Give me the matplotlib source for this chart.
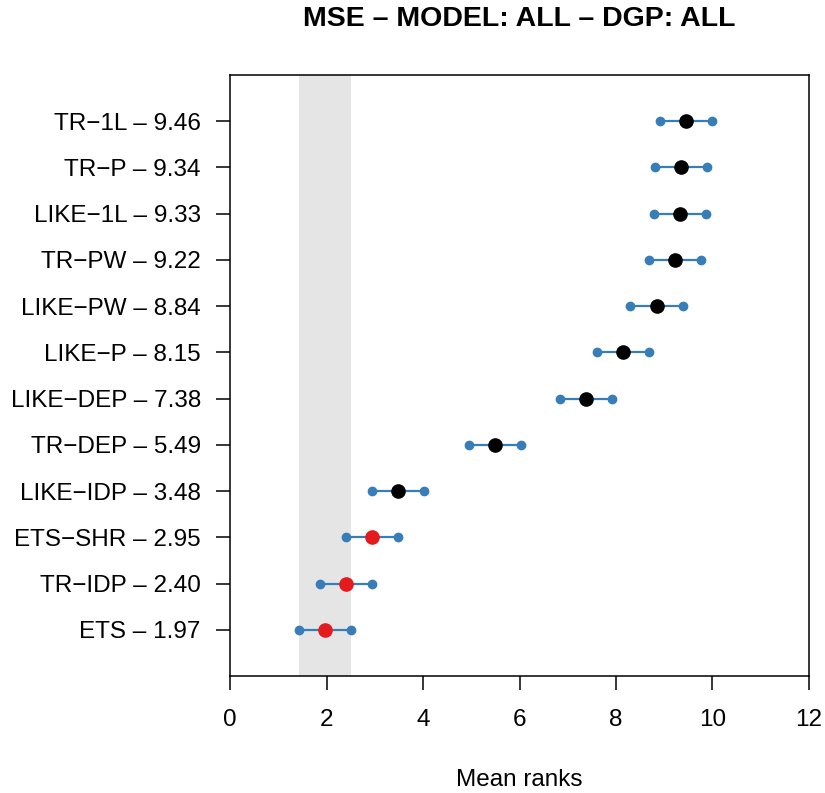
import numpy as np
import matplotlib
matplotlib.use("Agg")
import matplotlib.pyplot as plt

plt.rcParams['font.family'] = ['Liberation Sans', 'DejaVu Sans']

# methods ordered from best (lowest mean rank) to worst
methods = ['ETS', 'TR-IDP', 'ETS-SHR', 'LIKE-IDP', 'TR-DEP', 'LIKE-DEP',
           'LIKE-P', 'LIKE-PW', 'TR-PW', 'LIKE-1L', 'TR-P', 'TR-1L']
mean_ranks = [1.97, 2.40, 2.95, 3.48, 5.49, 7.38,
              8.15, 8.84, 9.22, 9.33, 9.34, 9.46]
half_cd = 0.54   # half of the critical distance
title = 'MSE \u2013 MODEL: ALL \u2013 DGP: ALL'

blue = '#377EB8'
red = '#E41A1C'

ranks = np.asarray(mean_ranks)
ypos = np.arange(1, len(methods) + 1)
best = ranks.min()
in_group = ranks <= best + 2 * half_cd

fig = plt.figure(figsize=(8.25, 7.93), dpi=100)
ax = fig.add_axes([0.2788, 0.1475, 0.7018, 0.7579])

ax.axvspan(best - half_cd, best + half_cd, color='#E5E5E5', lw=0, zorder=0)

ax.hlines(ypos, ranks - half_cd, ranks + half_cd, color=blue, lw=1.6, zorder=2)
ax.plot(ranks - half_cd, ypos, 'o', color=blue, ms=6, zorder=3)
ax.plot(ranks + half_cd, ypos, 'o', color=blue, ms=6, zorder=3)
ax.plot(ranks[~in_group], ypos[~in_group], 'o', color='black', ms=9.5, zorder=4)
ax.plot(ranks[in_group], ypos[in_group], 'o', color=red, ms=9.5, zorder=4)

ax.set_xlim(0, 12)
ax.set_ylim(0, 13)
ax.set_xticks(np.arange(0, 13, 2))
ax.set_yticks(ypos)
labels = [f"{m.replace('-', '\u2212')} \u2013 {r:.2f}" for m, r in zip(methods, mean_ranks)]
ax.set_yticklabels(labels)

ax.tick_params(axis='both', labelsize=17.5, length=10, width=1.1, direction='out')
ax.tick_params(axis='x', pad=14)
ax.tick_params(axis='y', pad=11)
for s in ax.spines.values():
    s.set_linewidth(1.1)

ax.set_xlabel('Mean ranks', fontsize=17.5, labelpad=27)
fig.text(0.6297, 1 - 19 / 793, title, ha='center', va='center',
         fontsize=20.5, fontweight='bold')

fig.savefig('out.png', dpi=100)
